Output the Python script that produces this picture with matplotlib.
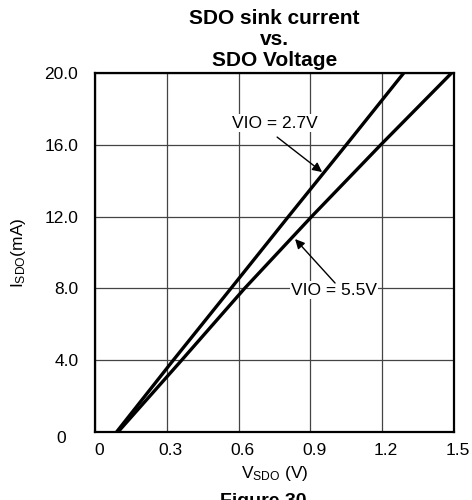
import matplotlib
matplotlib.use("Agg")
import matplotlib.pyplot as plt
import matplotlib.transforms as mtransforms

plt.rcParams["font.family"] = ["Liberation Sans", "DejaVu Sans"]
plt.rcParams["mathtext.default"] = "regular"

# current (mA) and voltage (V)
current = [0, 4, 8, 12, 16, 20]
v_vio27 = [0.090, 0.327, 0.568, 0.808, 1.050, 1.290]
v_vio55 = [0.096, 0.362, 0.625, 0.905, 1.194, 1.490]

x_ticks = [0, 0.3, 0.6, 0.9, 1.2, 1.5]
x_labels = ["0", "0.3", "0.6", "0.9", "1.2", "1.5"]
y_ticks = [0, 4, 8, 12, 16, 20]
y_labels = ["0", "4.0", "8.0", "12.0", "16.0", "20.0"]

fig = plt.figure(figsize=(4.72, 5.0), dpi=100)
ax = fig.add_axes([95 / 472, 1 - 432 / 500, 359 / 472, 359 / 500])

ax.plot(v_vio27, current, color="black", lw=2.4, solid_capstyle="round")
ax.plot(v_vio55, current, color="black", lw=2.4, solid_capstyle="round")

ax.set_xlim(0, 1.5)
ax.set_ylim(0, 20)
ax.set_xticks(x_ticks)
ax.set_xticklabels(x_labels)
ax.set_yticks(y_ticks)
ax.set_yticklabels(y_labels)
ax.tick_params(length=0, labelsize=12.5)
ax.tick_params(axis="y", pad=12)
ax.tick_params(axis="x", pad=8)
ax.grid(True, color="#444444", lw=0.9)
ax.set_axisbelow(True)
for s in ax.spines.values():
    s.set_linewidth(1.6)

# small label offsets as in the original
shift_x = mtransforms.ScaledTranslation(0.04, 0, fig.dpi_scale_trans)
for lab in ax.get_xticklabels():
    lab.set_transform(lab.get_transform() + shift_x)
shift_zero = mtransforms.ScaledTranslation(-0.12, -0.05, fig.dpi_scale_trans)
zero_lab = ax.get_yticklabels()[0]
zero_lab.set_transform(zero_lab.get_transform() + shift_zero)

ax.set_xlabel("V$_{SDO}$ (V)", fontsize=12.5, labelpad=4)
ax.set_ylabel("I$_{SDO}$(mA)", fontsize=12.5, labelpad=12)
ax.set_title("SDO sink current\nvs.\nSDO Voltage", fontsize=15,
             fontweight="bold", linespacing=1.15, pad=5)

# annotations
ax.text(0.752, 17.2, "VIO = 2.7V", fontsize=12.5, ha="center", va="center",
        bbox=dict(facecolor="white", edgecolor="none", pad=1))
ax.annotate("", xy=(0.949, 14.48), xytext=(0.761, 16.43),
            arrowprops=dict(arrowstyle="-|>", color="black", lw=1,
                            mutation_scale=14, shrinkA=0, shrinkB=0))
ax.text(0.999, 7.91, "VIO = 5.5V", fontsize=12.5, ha="center", va="center",
        bbox=dict(facecolor="white", edgecolor="none", pad=1))
ax.annotate("", xy=(0.836, 10.75), xytext=(1.003, 8.30),
            arrowprops=dict(arrowstyle="-|>", color="black", lw=1,
                            mutation_scale=14, shrinkA=0, shrinkB=0))

fig.text(0.558, 1 - 493 / 500, "Figure 30", fontsize=14, fontweight="bold",
         ha="center", va="top")

fig.savefig("out.png", dpi=100)
